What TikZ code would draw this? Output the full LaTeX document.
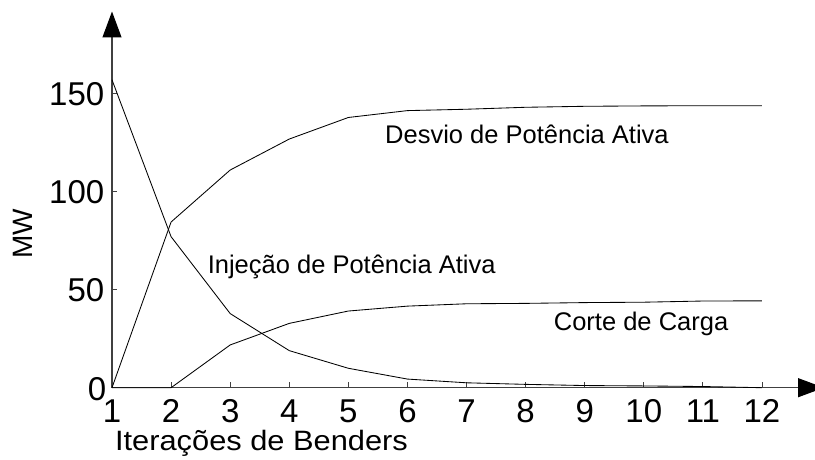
\documentclass[tikz,border=0pt]{standalone}
\usepackage{fontspec}
\setmainfont{Liberation Sans}
\newfontfamily\widesans[FakeStretch=1.1]{Liberation Sans}
\usetikzlibrary{arrows.meta}
\begin{document}
\begin{tikzpicture}[x=1pt,y=1pt,
  axisline/.style={line width=1.1pt, draw=black!75, -{Triangle[length=26pt,width=19pt,color=black]}},
  tickmark/.style={line width=0.9pt, draw=black!75},
  curve/.style={line width=0.85pt, black, line join=round},
  ticklabel/.style={font=\fontsize{33}{33}\selectfont, inner sep=0pt, text height=23pt, text depth=0pt},
  axistitle/.style={font=\widesans\fontsize{28}{28}\selectfont, inner sep=0pt},
  curvelabel/.style={font=\fontsize{25.5}{25.5}\selectfont, inner sep=0pt, anchor=base west}]
\useasboundingbox (0,0) rectangle (815,459);
% axes
\coordinate (O) at (112,71.3);
\coordinate (ytip) at (112,447.5);
\coordinate (xtip) at (824,71.3);
\draw[axisline] (O) -- (ytip);
\draw[axisline] (O) -- (xtip);
% tick labels
\foreach \i in {1,...,12}
  \node[ticklabel, anchor=base] (xl\i) at ({52.91+59.09*\i}, 36.5) {\i};
\foreach \v in {50,100,150}
  \node[ticklabel, anchor=east] (yl\v) at (104.5, {71.3+1.961*\v}) {\v};
\node[ticklabel, anchor=east] (yl0) at (106.5, 70.5) {0};
% axis titles
\node[axistitle, anchor=base, text height=20pt, text depth=6pt] (xtitle) at (261.5, 9) {Iterações de Benders};
\node[rotate=90, inner sep=0pt, font=\fontsize{28}{28}\selectfont] (ytitle) at (23, 225) {MW};
% data
\begin{scope}[shift={(52.91pt,71.3pt)}, x=59.09pt, y=1.961pt]
  \foreach \i in {2,...,12} \draw[tickmark] (\i,0) -- ++(0pt,6pt);
  \foreach \v in {50,100,150} \draw[tickmark] (1,\v) -- ++(5pt,0pt);
  \draw[curve] plot coordinates {(1,0) (2,84.5) (3,111) (4,126.8) (5,137.8) (6,141.3) (7,142) (8,143) (9,143.5) (10,143.7) (11,143.8) (12,143.8)};
  \draw[curve] plot coordinates {(1,157) (2,77) (3,37.8) (4,18.9) (5,9.9) (6,4.4) (7,2.5) (8,1.7) (9,1.1) (10,0.9) (11,0.6) (12,0)};
  \draw[curve] plot coordinates {(1,0) (2,0) (3,21.8) (4,32.8) (5,39.1) (6,41.6) (7,42.8) (8,43) (9,43.4) (10,43.6) (11,44.2) (12,44.3)};
\end{scope}
% curve labels
\node[curvelabel] (lbdesvio) at (385, 316) {Desvio de Potência Ativa};
\node[curvelabel] (lbinj) at (207.6, 186) {Injeção de Potência Ativa};
\node[curvelabel] (lbcorte) at (553.7, 129) {Corte de Carga};
\end{tikzpicture}
\end{document}
